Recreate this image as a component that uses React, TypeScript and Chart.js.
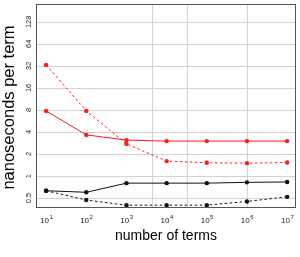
import { useEffect, useRef } from "react";
import { Chart, registerables } from "chart.js";
Chart.register(...registerables);

const terms = [10, 100, 1e3, 1e4, 1e5, 1e6, 1e7];
const xExponents = [1, 2, 3, 4, 5, 6, 7];
const redSolid = [7.75, 3.65, 3.1, 3.0, 3.0, 3.0, 3.0];
const redDashed = [33, 7.75, 2.75, 1.6, 1.52, 1.5, 1.53];
const blackSolid = [0.63, 0.6, 0.8, 0.8, 0.8, 0.82, 0.83];
const blackDashed = [0.63, 0.47, 0.4, 0.4, 0.4, 0.45, 0.52];
const yTicks = [0.5, 1, 2, 4, 8, 16, 32, 64, 128];
const xGridValues = [4270, 33000, 1e6];

const FONT = "'Liberation Sans', Arial, sans-serif";

const pts = (ys: number[]) => terms.map((x, i) => ({ x, y: ys[i] }));

const decor = {
  id: "decor",
  beforeDatasetsDraw(chart: any) {
    const { ctx, chartArea: a, scales } = chart;
    const xs = scales.x, ys = scales.y;
    ctx.save();
    ctx.strokeStyle = "#d2d2d2";
    ctx.lineWidth = 1;
    ctx.beginPath();
    yTicks.forEach((v) => {
      const y = Math.round(ys.getPixelForValue(v)) + 0.5;
      ctx.moveTo(a.left, y);
      ctx.lineTo(a.right, y);
    });
    xGridValues.forEach((v) => {
      const x = Math.round(xs.getPixelForValue(v)) + 0.5;
      ctx.moveTo(x, a.top);
      ctx.lineTo(x, a.bottom);
    });
    ctx.stroke();
    ctx.restore();
  },
  afterDraw(chart: any) {
    const { ctx, chartArea: a, scales } = chart;
    const xs = scales.x, ys = scales.y;
    ctx.save();
    // frame
    ctx.strokeStyle = "#555";
    ctx.lineWidth = 1;
    ctx.strokeRect(a.left + 0.5, a.top + 0.5, a.right - a.left - 1, a.bottom - a.top - 1);
    ctx.fillStyle = "#222";
    // y tick labels (rotated)
    ctx.font = `7.5px ${FONT}`;
    ctx.textAlign = "center";
    ctx.textBaseline = "alphabetic";
    yTicks.forEach((v) => {
      const y = ys.getPixelForValue(v);
      ctx.save();
      ctx.translate(30.5, y);
      ctx.rotate(-Math.PI / 2);
      ctx.fillText(String(v), 0, 0);
      ctx.restore();
    });
    // x tick labels 10^n
    xExponents.forEach((e, i) => {
      const x = xs.getPixelForValue(terms[i]);
      ctx.font = `8px ${FONT}`;
      const w1 = ctx.measureText("10").width;
      ctx.font = `6px ${FONT}`;
      const w2 = ctx.measureText(String(e)).width;
      const start = x - (w1 + w2) / 2;
      ctx.textAlign = "left";
      ctx.font = `8px ${FONT}`;
      ctx.fillText("10", start, 223);
      ctx.font = `6px ${FONT}`;
      ctx.fillText(String(e), start + w1 + 0.5, 218.5);
    });
    // titles
    ctx.fillStyle = "#000";
    ctx.font = `14px ${FONT}`;
    ctx.textAlign = "center";
    ctx.fillText("number of terms", (a.left + a.right) / 2, 240);
    ctx.save();
    ctx.font = `16.5px ${FONT}`;
    ctx.translate(13.5, 107.5);
    ctx.rotate(-Math.PI / 2);
    ctx.fillText("nanoseconds per term", 0, 0);
    ctx.restore();
    ctx.restore();
  },
};

export default function App() {
  const ref = useRef<HTMLCanvasElement>(null);
  useEffect(() => {
    const ds = (label: string, data: number[], color: string, dashed: boolean) => ({
      label,
      data: pts(data),
      borderColor: color,
      backgroundColor: color,
      borderWidth: 1,
      borderDash: dashed ? [2.5, 2.5] : [],
      pointRadius: 2.2,
      pointBorderWidth: 0,
      pointBackgroundColor: color,
      tension: 0,
    });
    const chart = new Chart(ref.current!, {
      type: "line",
      data: {
        datasets: [
          ds("red solid", redSolid, "#ff1a1a", false),
          ds("red dashed", redDashed, "#ff1a1a", true),
          ds("black solid", blackSolid, "#111", false),
          ds("black dashed", blackDashed, "#111", true),
        ],
      },
      options: {
        animation: false,
        responsive: false,
        devicePixelRatio: 1,
        layout: { padding: { left: 36, top: 2, right: 3, bottom: 49 } },
        plugins: { legend: { display: false }, tooltip: { enabled: false } },
        scales: {
          x: { type: "logarithmic", display: false, min: 5.6, max: 1.66e7 },
          y: { type: "logarithmic", display: false, min: 0.366, max: 224 },
        },
      },
      plugins: [decor],
    });
    return () => chart.destroy();
  }, []);
  return (
    <div style={{ position: "fixed", left: 0, top: 0, width: 300, height: 257, background: "#fff" }}>
      <canvas ref={ref} width={300} height={257} />
    </div>
  );
}
